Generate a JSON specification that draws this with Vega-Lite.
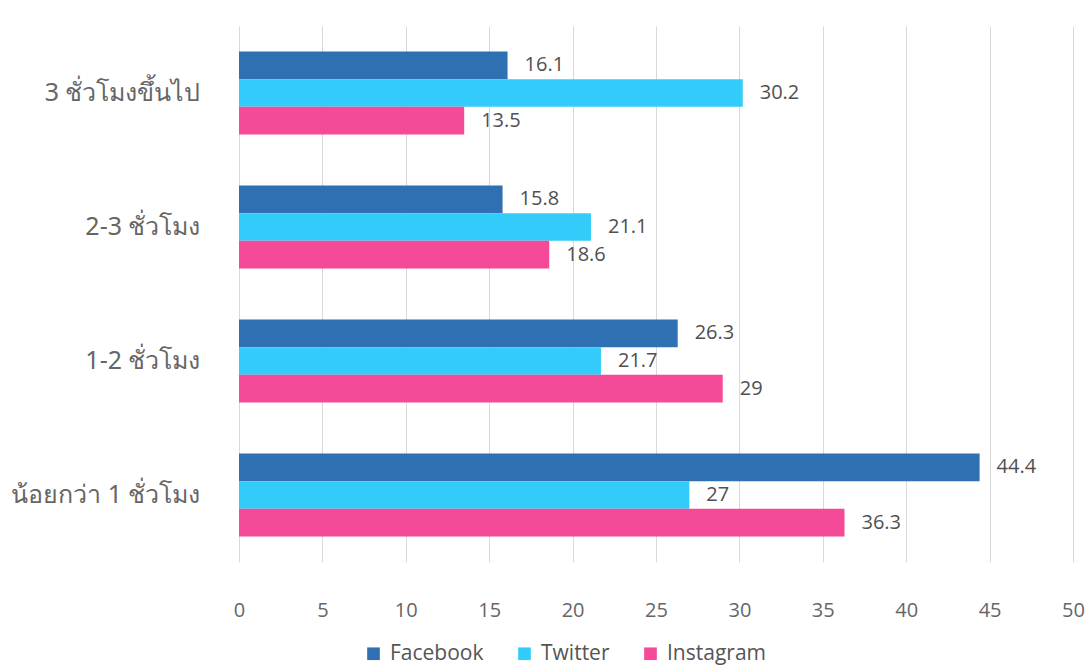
{
  "$schema": "https://vega.github.io/schema/vega-lite/v6.json",
  "width": 834,
  "height": 536,
  "autosize": {"type": "none"},
  "padding": {"left": 239, "top": 26, "right": 16, "bottom": 104},
  "background": "white",
  "config": {
    "view": {"stroke": null},
    "font": "Open Sans",
    "axis": {"labelFont": "Open Sans", "titleFont": "Open Sans"},
    "legend": {"labelFont": "Open Sans"}
  },
  "data": {
    "values": [
      {"period": "3 ชั่วโมงขึ้นไป", "platform": "Facebook", "percent": 16.1},
      {"period": "3 ชั่วโมงขึ้นไป", "platform": "Twitter", "percent": 30.2},
      {"period": "3 ชั่วโมงขึ้นไป", "platform": "Instagram", "percent": 13.5},
      {"period": "2-3 ชั่วโมง", "platform": "Facebook", "percent": 15.8},
      {"period": "2-3 ชั่วโมง", "platform": "Twitter", "percent": 21.1},
      {"period": "2-3 ชั่วโมง", "platform": "Instagram", "percent": 18.6},
      {"period": "1-2 ชั่วโมง", "platform": "Facebook", "percent": 26.3},
      {"period": "1-2 ชั่วโมง", "platform": "Twitter", "percent": 21.7},
      {"period": "1-2 ชั่วโมง", "platform": "Instagram", "percent": 29},
      {"period": "น้อยกว่า 1 ชั่วโมง", "platform": "Facebook", "percent": 44.4},
      {"period": "น้อยกว่า 1 ชั่วโมง", "platform": "Twitter", "percent": 27},
      {"period": "น้อยกว่า 1 ชั่วโมง", "platform": "Instagram", "percent": 36.3}
    ]
  },
  "encoding": {
    "y": {
      "field": "period",
      "type": "nominal",
      "sort": ["3 ชั่วโมงขึ้นไป", "2-3 ชั่วโมง", "1-2 ชั่วโมง", "น้อยกว่า 1 ชั่วโมง"],
      "scale": {"paddingInner": 0.38, "paddingOuter": 0.19},
      "axis": {
        "title": null,
        "domain": false,
        "ticks": false,
        "labelPadding": 39,
        "labelLimit": 400,
        "labelFontSize": 25,
        "labelFont": "Noto Sans",
        "labelColor": "#666666"
      }
    },
    "yOffset": {
      "field": "platform",
      "type": "nominal",
      "sort": ["Facebook", "Twitter", "Instagram"]
    },
    "x": {
      "field": "percent",
      "type": "quantitative",
      "scale": {"domain": [0, 50]},
      "axis": {
        "title": null,
        "values": [0, 5, 10, 15, 20, 25, 30, 35, 40, 45, 50],
        "grid": true,
        "gridColor": "#d9d9d9",
        "domain": false,
        "ticks": false,
        "labelFlush": false,
        "labelPadding": 38,
        "labelFontSize": 20,
        "labelColor": "#666666"
      }
    }
  },
  "layer": [
    {
      "mark": {"type": "bar"},
      "encoding": {
        "color": {
          "field": "platform",
          "type": "nominal",
          "sort": ["Facebook", "Twitter", "Instagram"],
          "scale": {
            "domain": ["Facebook", "Twitter", "Instagram"],
            "range": ["#2e70b1", "#33ccfa", "#f54a97"]
          },
          "legend": {
            "title": null,
            "orient": "none",
            "direction": "horizontal",
            "legendX": 124,
            "legendY": 617,
            "symbolType": "square",
            "symbolSize": 160,
            "symbolStrokeWidth": 0,
            "labelFontSize": 21,
            "labelColor": "#555555",
            "columnPadding": 30,
            "labelOffset": 6
          }
        }
      }
    },
    {
      "mark": {"type": "text", "align": "left", "baseline": "middle", "dx": 17, "fontSize": 20, "color": "#505050"},
      "encoding": {
        "text": {"field": "percent", "type": "quantitative"}
      }
    }
  ]
}
